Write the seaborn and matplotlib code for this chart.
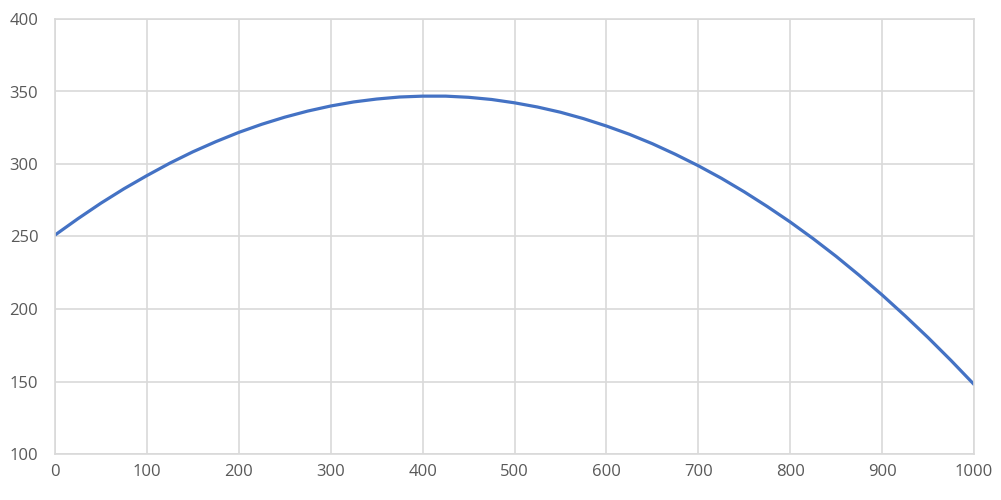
import matplotlib
matplotlib.use("Agg")
import matplotlib.pyplot as plt
import seaborn as sns
import pandas as pd

x_vals = [0, 25, 50, 75, 100, 125, 150, 175, 200, 225, 250, 275, 300, 325,
          350, 375, 400, 425, 450, 475, 500, 525, 550, 575, 600, 625, 650,
          675, 700, 725, 750, 775, 800, 825, 850, 875, 900, 925, 950, 975, 1000]
y_vals = [251, 262.3, 273, 282.9, 292, 300.6, 308.4, 315.4, 321.8, 327.4,
          332.3, 336.5, 340, 342.8, 344.8, 346.2, 346.8, 346.8, 346, 344.5,
          342.2, 339.3, 335.7, 331.3, 326.2, 320.5, 314, 306.7, 298.8, 290.2,
          280.8, 270.7, 260, 248.5, 236.3, 223.3, 209.7, 195.3, 180.3, 164.5, 148]
x_ticks = [0, 100, 200, 300, 400, 500, 600, 700, 800, 900, 1000]
y_ticks = [100, 150, 200, 250, 300, 350, 400]

sns.set_theme(style="whitegrid")
plt.rcParams['font.family'] = ['Open Sans', 'DejaVu Sans']

df = pd.DataFrame({"x": x_vals, "y": y_vals})

fig = plt.figure(figsize=(10.01, 5.0), dpi=100)
ax = fig.add_axes([55/1001, 46/500, 919/1001, 435/500])
sns.lineplot(data=df, x="x", y="y", ax=ax, color="#4472C4", linewidth=2.3)

ax.set_xlim(0, 1000)
ax.set_ylim(100, 400)
ax.set_xticks(x_ticks)
ax.set_yticks(y_ticks)
ax.set_xlabel("")
ax.set_ylabel("")
ax.grid(True, color="#d9d9d9", linewidth=1.2)
for s in ax.spines.values():
    s.set_color("#d9d9d9")
    s.set_linewidth(1.2)
ax.tick_params(axis="both", length=0, labelsize=12, labelcolor="#595959")
ax.tick_params(axis="y", pad=12)
ax.tick_params(axis="x", pad=7)

fig.savefig("out.png", dpi=100, facecolor="white")
